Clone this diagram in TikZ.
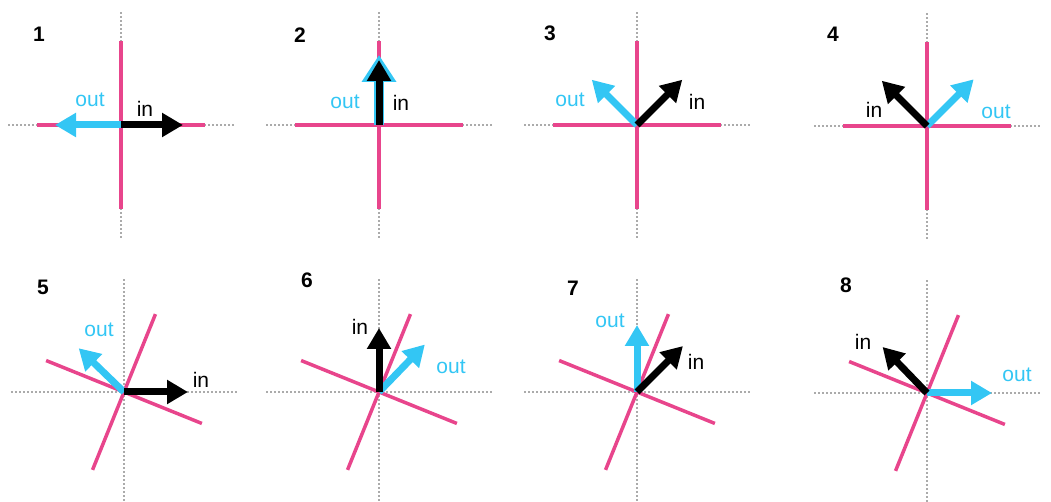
\documentclass[tikz,border=0pt]{standalone}
\usepackage{fontspec}
\setmainfont{Liberation Sans}
\usetikzlibrary{arrows.meta}
\definecolor{pinkln}{HTML}{E8458C}
\definecolor{cyanarr}{HTML}{33C6F4}
\definecolor{dotgray}{HTML}{ABABAB}
\tikzset{
  guide/.style={dotgray,line width=2pt,dash pattern=on 2pt off 2pt},
  mirror/.style={pinkln,line width=3.5pt},
  inarr/.style={-{Triangle[length=21pt,width=23pt]},line width=7pt,black},
  outarr/.style={-{Triangle[length=21pt,width=23pt]},line width=7pt,cyanarr},
  numlbl/.style={font=\fontsize{21}{24}\selectfont\bfseries},
  inlbl/.style={font=\fontsize{21}{24}\selectfont,black},
  outlbl/.style={font=\fontsize{21}{24}\selectfont,cyanarr}
}
\begin{document}
\begin{tikzpicture}[x=1pt,y=1pt]
  \useasboundingbox (0,0) rectangle (1051,502);
  % panels: number/centre/turn of the cross/in angle and length/out angle and length
  \foreach \n/\cx/\cy/\r/\ia/\il/\oa/\ol in {
      1/121/377/0/0/62/180/66, 2/379/377/0/90/65/90/70,
      3/637/377/0/45/64/135/64, 4/927/376/0/135/64/45/66,
      5/124/110/-22/0/64/136/63, 6/379/110/-22/90/64/46/66,
      7/637/110/-22/45/65/90/67, 8/927/109/-22/134/64/0/65}{
    \ifnum\n=2
      \tikzset{outarr/.append style={line width=10pt,-{Triangle[length=27pt,width=33pt]}}}
    \fi
    \begin{scope}[shift={(\cx,\cy)}]
      \draw[guide] (-113,0) -- (113,0);
      \draw[guide] (0,-113) -- (0,113);
      \draw[mirror,rotate=\r] (-84,0) -- (84,0) (0,-84) -- (0,84);
      \coordinate (c\n) at (0,0);
      \coordinate (i\n) at (\ia:\il);
      \coordinate (o\n) at (\oa:\ol);
      \draw[outarr] (c\n) -- (o\n);
      \draw[inarr] (c\n) -- (i\n);
    \end{scope}
  }
  % labels: number, in, out
  \foreach \n/\nx/\ny/\ix/\iy/\ox/\oy in {
      1/39/468/145/393/90/402, 2/300/467/401/399/345/400,
      3/550/469/697/400/570/402, 4/833/468/874/392/996/390,
      5/43/215/201/122/99/172, 6/307/222/360/175/451/135,
      7/573/214/696/140/610/181, 8/846/217/863/160/1017/127}{
    \node[numlbl] (num\n) at (\nx,\ny) {\n};
    \node[inlbl] (lin\n) at (\ix,\iy) {in};
    \node[outlbl] (lout\n) at (\ox,\oy) {out};
  }
\end{tikzpicture}
\end{document}
